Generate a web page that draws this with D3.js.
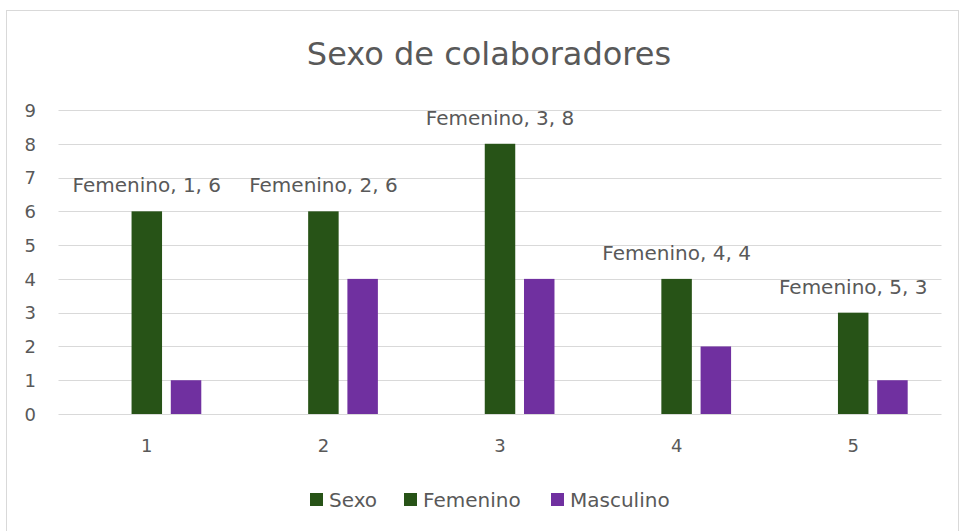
<!DOCTYPE html>
<html><head><meta charset="utf-8">
<script src="https://cdn.jsdelivr.net/npm/d3@7"></script>
<style>html,body{margin:0;padding:0;background:#fff;}svg{display:block;}</style>
</head><body>
<svg id="chart" width="960" height="531"></svg>
<script>
const title = "Sexo de colaboradores";
const categories = ["1", "2", "3", "4", "5"];
const seriesNames = ["Sexo", "Femenino", "Masculino"];
const sexoValues = [null, null, null, null, null];
const femeninoValues = [6, 6, 8, 4, 3];
const masculinoValues = [1, 4, 4, 2, 1];
const yTicks = [0, 1, 2, 3, 4, 5, 6, 7, 8, 9];
const colors = {"Sexo": "#275317", "Femenino": "#275317", "Masculino": "#7030A0"};

const seriesValues = {"Sexo": sexoValues, "Femenino": femeninoValues, "Masculino": masculinoValues};
const FONT = "'DejaVu Sans', sans-serif";
const TXT = "#595959";

const svg = d3.select("#chart");
svg.append("rect").attr("x", 6.5).attr("y", 10.5).attr("width", 952).attr("height", 540)
  .attr("fill", "#fff").attr("stroke", "#d9d9d9").attr("stroke-width", 1);

const left = 58.5, right = 941.5;
const x = d3.scaleBand().domain(categories).range([left, right]).paddingInner(0.383).paddingOuter(0.1915);
const xs = d3.scaleBand().domain(seriesNames).range([0, x.bandwidth()]).paddingInner(0.223);
const y = d3.scaleLinear().domain([0, 9]).range([414, 110]);

// title
svg.append("text").attr("x", 489).attr("y", 65).attr("text-anchor", "middle")
  .attr("font-family", FONT).attr("font-size", 32).attr("fill", TXT).text(title);

// gridlines
svg.append("g").selectAll("line").data(yTicks).join("line")
  .attr("x1", left).attr("x2", right)
  .attr("y1", d => Math.round(y(d)) + 0.5).attr("y2", d => Math.round(y(d)) + 0.5)
  .attr("stroke", "#d9d9d9").attr("stroke-width", 1.2);

// y axis labels
const yAxis = d3.axisLeft(y).tickValues(yTicks).tickSize(0).tickPadding(0).tickFormat(d3.format("d"));
const gy = svg.append("g").attr("transform", "translate(36,0)").call(yAxis);
gy.select(".domain").remove();
gy.selectAll("text").attr("font-family", FONT).attr("font-size", 18).attr("fill", TXT).attr("dy", "0.35em");

// x axis labels
const xAxis = d3.axisBottom(x).tickSize(0).tickPadding(0);
const gx = svg.append("g").attr("transform", "translate(0,438)").call(xAxis);
gx.select(".domain").remove();
gx.selectAll("text").attr("font-family", FONT).attr("font-size", 18).attr("fill", TXT).attr("dy", "0.75em");

// bars
const bars = [];
seriesNames.forEach(s => {
  categories.forEach((c, i) => {
    const v = seriesValues[s][i];
    if (v !== null && v !== undefined) bars.push({s, c, v});
  });
});
svg.append("g").selectAll("rect").data(bars).join("rect")
  .attr("x", d => x(d.c) + xs(d.s))
  .attr("width", xs.bandwidth())
  .attr("y", d => y(d.v))
  .attr("height", d => y(0) - y(d.v))
  .attr("fill", d => colors[d.s]);

// data labels for Femenino
svg.append("g").selectAll("text").data(bars.filter(d => d.s === "Femenino")).join("text")
  .attr("x", d => x(d.c) + xs(d.s) + xs.bandwidth() / 2)
  .attr("y", d => y(d.v) - 19)
  .attr("text-anchor", "middle")
  .attr("font-family", FONT).attr("font-size", 20).attr("fill", TXT)
  .text(d => `${d.s}, ${d.c}, ${d.v}`);

// legend
const legendX = [310, 404, 551];
const lg = svg.append("g").selectAll("g").data(seriesNames).join("g")
  .attr("transform", (d, i) => `translate(${legendX[i]},493)`);
lg.append("rect").attr("width", 13).attr("height", 13).attr("fill", d => colors[d]);
lg.append("text").attr("x", 19).attr("y", 6.5).attr("dy", "0.36em")
  .attr("font-family", FONT).attr("font-size", 20).attr("fill", TXT).text(d => d);
</script>
</body></html>
